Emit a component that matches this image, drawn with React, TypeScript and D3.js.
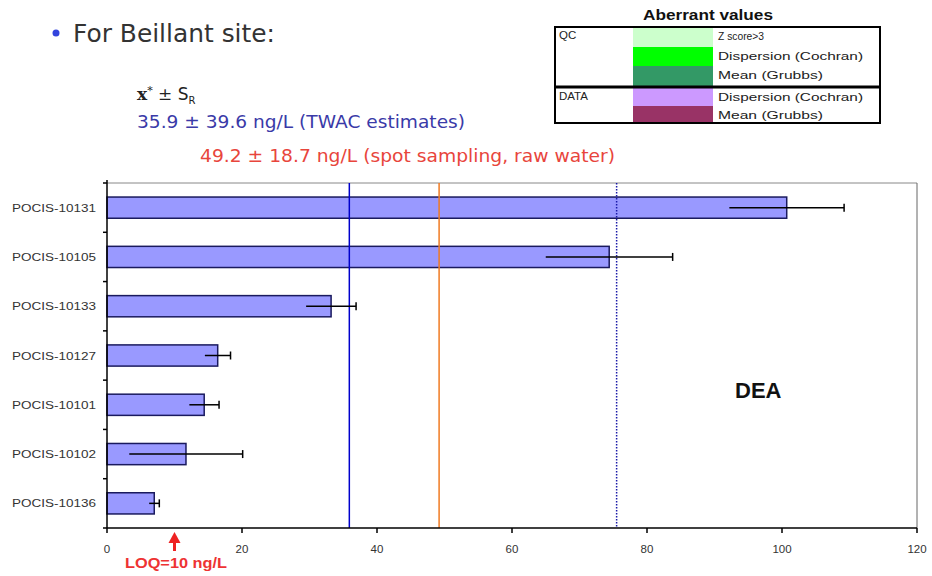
import React from "react";
import * as d3 from "d3";

const categories = ["POCIS-10131", "POCIS-10105", "POCIS-10133", "POCIS-10127", "POCIS-10101", "POCIS-10102", "POCIS-10136"];
const values = [100.7, 74.4, 33.2, 16.4, 14.4, 11.7, 7.0];
const errors = [8.5, 9.4, 3.7, 1.9, 2.2, 8.4, 0.75];
const xTicks = [0, 20, 40, 60, 80, 100, 120];
const assignedValue = 35.9;
const assignedSR = 39.6;
const spotValue = 49.2;
const spotSR = 18.7;
const loq = 10;

const legendRows = [
  { group: "QC", color: "#ccffcc", label: "Z score>3", len: 46 },
  { group: "", color: "#00ff00", label: "Dispersion (Cochran)", len: 145 },
  { group: "", color: "#339966", label: "Mean (Grubbs)", len: 105 },
  { group: "DATA", color: "#cc99ff", label: "Dispersion (Cochran)", len: 145 },
  { group: "", color: "#993366", label: "Mean (Grubbs)", len: 105 },
];

const W = 932;
const H = 576;
const left = 107;
const right = 917;
const top = 183;
const bottom = 528;

export default function App() {
  const x = d3.scaleLinear().domain([0, 120]).range([left, right]);
  const y = d3
    .scaleBand<string>()
    .domain(categories)
    .range([top, bottom])
    .paddingInner(0.57)
    .paddingOuter(0.285);
  const step = y.step();
  const bw = y.bandwidth();
  const sans = "'Liberation Sans', Arial, sans-serif";
  const tahoma = "'DejaVu Sans', Verdana, sans-serif";

  const lx0 = 555, lx1 = 880, ly0 = 27;
  const rowYs = [27, 47, 66, 88, 106, 123];

  return (
    <svg width={W} height={H} style={{ position: "absolute", left: 0, top: 0, background: "#fff" }}>
      <rect x={0} y={0} width={W} height={H} fill="#fff" />
      {/* Title */}
      <circle cx={56} cy={33} r={3.5} fill="#3344dd" />
      <text x={73} y={42} fontFamily={tahoma} fontSize={24} fill="#333" textLength={202} lengthAdjust="spacingAndGlyphs">
        For Beillant site:
      </text>
      {/* x* ± SR */}
      <text x={137} y={100} fontFamily="'DejaVu Serif', 'Liberation Serif', serif" fontSize={17} fill="#222">
        <tspan fontWeight="bold">x</tspan>
        <tspan dy={-6} fontSize={11}>*</tspan>
        <tspan dy={6}> ± </tspan>
        <tspan fontFamily={tahoma}>S</tspan>
        <tspan dy={4} fontSize={10} fontFamily={tahoma}>R</tspan>
      </text>
      <text x={137} y={128} fontFamily={tahoma} fontSize={18} fill="#3a3aa8" textLength={328} lengthAdjust="spacingAndGlyphs">
        {`${assignedValue} ± ${assignedSR} ng/L (TWAC estimates)`}
      </text>
      <text x={200} y={162} fontFamily={tahoma} fontSize={18} fill="#e8453c" textLength={415} lengthAdjust="spacingAndGlyphs">
        {`${spotValue} ± ${spotSR} ng/L (spot sampling, raw water)`}
      </text>

      {/* Legend */}
      <text x={643} y={20} fontFamily={sans} fontWeight="bold" fontSize={15} fill="#111" textLength={130} lengthAdjust="spacingAndGlyphs">
        Aberrant values
      </text>
      {legendRows.map((r, i) => (
        <g key={i}>
          <rect x={633} y={rowYs[i]} width={80} height={rowYs[i + 1] - rowYs[i]} fill={r.color} />
          <text x={718} y={rowYs[i] + 13} fontFamily={sans} fontSize={11.5} fill="#222" textLength={r.len} lengthAdjust="spacingAndGlyphs">
            {r.label}
          </text>
          {r.group && (
            <text x={559} y={rowYs[i] + 12} fontFamily={sans} fontSize={11.5} fill="#222">
              {r.group}
            </text>
          )}
        </g>
      ))}
      <rect x={lx0} y={ly0} width={lx1 - lx0} height={123 - ly0} fill="none" stroke="#000" strokeWidth={2} />
      <line x1={lx0} x2={lx1} y1={87} y2={87} stroke="#000" strokeWidth={3} />

      {/* Plot frame */}
      <line x1={left} x2={right} y1={top} y2={top} stroke="#888" strokeWidth={1} />
      <line x1={right} x2={right} y1={top} y2={bottom} stroke="#666" strokeWidth={1} />

      {/* Bars */}
      {categories.map((c, i) => {
        const yy = y(c)!;
        return (
          <rect key={c} x={x(0)} y={yy} width={x(values[i]) - x(0)} height={bw} fill="#9999ff" stroke="#1a1a5e" strokeWidth={1.5} />
        );
      })}

      {/* Reference lines */}
      <line x1={x(assignedValue)} x2={x(assignedValue)} y1={top} y2={bottom} stroke="#0000cc" strokeWidth={1.5} />
      <line x1={x(spotValue)} x2={x(spotValue)} y1={top} y2={bottom} stroke="#f07a22" strokeWidth={1.5} />
      <line x1={x(assignedValue + assignedSR)} x2={x(assignedValue + assignedSR)} y1={top} y2={bottom} stroke="#1a1aa8" strokeWidth={1.5} strokeDasharray="1.5,1.5" />

      {/* Error bars */}
      {categories.map((c, i) => {
        const cy = y(c)! + bw / 2;
        const x1 = x(values[i] - errors[i]);
        const x2 = x(values[i] + errors[i]);
        return (
          <g key={c + "e"}>
            <line x1={x1} x2={x2} y1={cy} y2={cy} stroke="#000" strokeWidth={1.5} />
            <line x1={x2} x2={x2} y1={cy - 4} y2={cy + 4} stroke="#000" strokeWidth={1.5} />
          </g>
        );
      })}

      {/* Y axis */}
      <line x1={left} x2={left} y1={top - 3} y2={bottom} stroke="#000" strokeWidth={1.5} />
      {d3.range(categories.length + 1).map((k) => (
        <line key={"yt" + k} x1={left - 4} x2={left} y1={top + k * step} y2={top + k * step} stroke="#000" strokeWidth={1.5} />
      ))}
      {categories.map((c) => (
        <text key={c + "l"} x={96} y={y(c)! + bw / 2 + 4} textAnchor="end" fontFamily={sans} fontSize={11} fill="#333" textLength={84} lengthAdjust="spacingAndGlyphs">
          {c}
        </text>
      ))}

      {/* X axis */}
      <line x1={left} x2={right} y1={bottom} y2={bottom} stroke="#000" strokeWidth={1.5} />
      {xTicks.map((t) => (
        <g key={"xt" + t}>
          <line x1={x(t)} x2={x(t)} y1={bottom} y2={bottom + 5} stroke="#000" strokeWidth={1.5} />
          <text x={x(t)} y={553} textAnchor="middle" fontFamily={sans} fontSize={11.5} fill="#333">
            {t}
          </text>
        </g>
      ))}

      {/* DEA label */}
      <text x={735} y={398} fontFamily={sans} fontWeight="bold" fontSize={22} fill="#111">
        DEA
      </text>

      {/* LOQ arrow */}
      <line x1={x(loq)} x2={x(loq)} y1={541} y2={551} stroke="#ee2222" strokeWidth={3} />
      <path d={`M${x(loq) - 6},${543} L${x(loq)},${532} L${x(loq) + 6},${543} Z`} fill="#ee2222" />
      <text x={125} y={568} fontFamily={sans} fontWeight="bold" fontSize={15} fill="#ee3333" textLength={102} lengthAdjust="spacingAndGlyphs">
        LOQ=10 ng/L
      </text>
    </svg>
  );
}
